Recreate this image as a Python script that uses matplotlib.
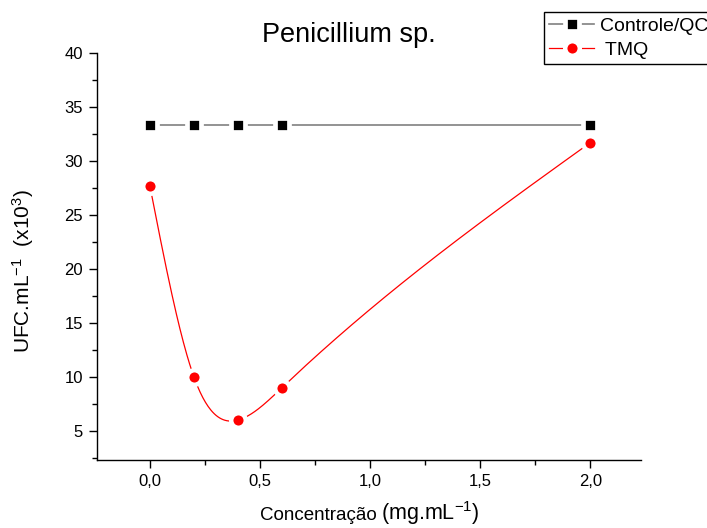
import numpy as np
import matplotlib
matplotlib.use("Agg")
import matplotlib.pyplot as plt
from matplotlib.ticker import MultipleLocator, FuncFormatter
from matplotlib.lines import Line2D

plt.rcParams['font.family'] = ['Liberation Sans', 'DejaVu Sans']
plt.rcParams['mathtext.fontset'] = 'custom'
plt.rcParams['mathtext.rm'] = 'Liberation Sans'
plt.rcParams['mathtext.it'] = 'Liberation Sans:italic'
plt.rcParams['mathtext.bf'] = 'Liberation Sans:bold'

conc = [0.0, 0.2, 0.4, 0.6, 2.0]
controle = [33.3, 33.3, 33.3, 33.3, 33.3]
tmq = [27.7, 10.0, 6.0, 9.0, 31.7]

title = "Penicillium sp."
xlabel_a = "Concentração"
xlabel_b = "(mg.mL$^{-1}$)"
ylabel = "UFC.mL$^{-1}$  (x10$^{3}$)"
labels = ["Controle/QC", " TMQ"]


def natural_spline(x, y, xn):
    x = np.asarray(x, float); y = np.asarray(y, float)
    n = len(x); h = np.diff(x); d = np.diff(y) / h
    A = np.zeros((n, n)); b = np.zeros(n)
    A[0, 0] = 1; A[-1, -1] = 1
    for i in range(1, n - 1):
        A[i, i - 1] = h[i - 1]
        A[i, i] = 2 * (h[i - 1] + h[i])
        A[i, i + 1] = h[i]
        b[i] = 6 * (d[i] - d[i - 1])
    M = np.linalg.solve(A, b)
    idx = np.clip(np.searchsorted(x, xn) - 1, 0, n - 2)
    x0 = x[idx]; x1 = x[idx + 1]; hh = h[idx]
    return (M[idx] * (x1 - xn) ** 3 / (6 * hh) + M[idx + 1] * (xn - x0) ** 3 / (6 * hh)
            + (y[idx] / hh - M[idx] * hh / 6) * (x1 - xn)
            + (y[idx + 1] / hh - M[idx + 1] * hh / 6) * (xn - x0))


fig = plt.figure(figsize=(7.07, 5.28), dpi=100)
ax = fig.add_axes([97 / 707, 1 - 460 / 528, (641 - 97) / 707, (460 - 53) / 528])

ctrl_style = dict(color='#808080', lw=1.2)
ctrl_mark = dict(marker='s', ms=10, mfc='black', mec='white', mew=3.4)
tmq_style = dict(color='red', lw=0.9)
tmq_mark = dict(marker='o', ms=10.5, mfc='red', mec='white', mew=3.2)

ax.plot(conc, controle, zorder=2, **ctrl_style)
ax.plot(conc, controle, ls='none', zorder=3, **ctrl_mark)

xs = np.linspace(conc[0], conc[-1], 500)
ax.plot(xs, natural_spline(conc, tmq, xs), zorder=2, **tmq_style)
ax.plot(conc, tmq, ls='none', zorder=3, **tmq_mark)

ax.set_xlim(-0.24, 2.23)
ax.set_ylim(2.3, 40)
ax.xaxis.set_major_locator(MultipleLocator(0.5))
ax.xaxis.set_minor_locator(MultipleLocator(0.25))
ax.yaxis.set_major_locator(MultipleLocator(5))
ax.yaxis.set_minor_locator(MultipleLocator(2.5))
ax.xaxis.set_major_formatter(FuncFormatter(lambda v, p: f"{v:.1f}".replace('.', ',')))
ax.yaxis.set_major_formatter(FuncFormatter(lambda v, p: f"{v:.0f}"))
ax.spines['top'].set_visible(False)
ax.spines['right'].set_visible(False)
for s in ('left', 'bottom'):
    ax.spines[s].set_linewidth(1.0)
ax.tick_params(which='major', direction='out', length=6, width=1.0, labelsize=12, pad=4)
ax.tick_params(which='minor', direction='out', length=3.5, width=1.0)

ax.set_title(title, fontsize=19.5, pad=8, x=0.463)
ax.set_ylabel(ylabel, fontsize=15)
ax.yaxis.set_label_coords(-0.113, 0.465)

# x label: two parts with different sizes, sharing a baseline
yb = 1 - 520 / 528
fig.text(377 / 707, yb, xlabel_a, ha='right', va='baseline', fontsize=13.5)
fig.text(381 / 707, yb, xlabel_b, ha='left', va='baseline', fontsize=15.5)

h1 = Line2D([], [], **ctrl_style, **ctrl_mark)
h2 = Line2D([], [], **tmq_style, **tmq_mark)
leg = fig.legend([h1, h2], labels, loc='upper left', bbox_to_anchor=(544 / 707, 1 - 12 / 528),
                 fontsize=14, frameon=True, fancybox=False, framealpha=1, edgecolor='black',
                 borderpad=0.28, handlelength=2.3, handletextpad=0.3, labelspacing=0.3,
                 borderaxespad=0)
leg.get_frame().set_linewidth(1.0)

fig.savefig("out.png", dpi=100)
